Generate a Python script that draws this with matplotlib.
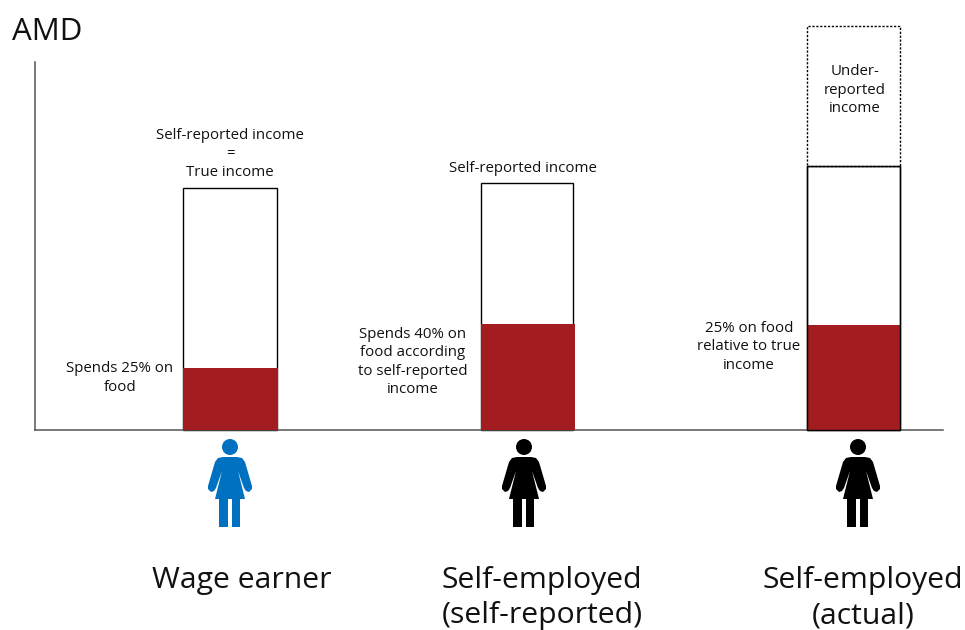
import matplotlib
matplotlib.use("Agg")
import matplotlib.pyplot as plt
from matplotlib.patches import Circle, Polygon, Rectangle

plt.rcParams["font.family"] = ["Open Sans", "DejaVu Sans"]

W, H = 965, 630
categories = ["Wage earner", "Self-employed\n(self-reported)", "Self-employed\n(actual)"]
bar_left = [183, 481, 807]
bar_width = [94, 92, 93]
income = [242, 247, 264]
food = [62, 106, 105]
unreported = [0, 0, 140]
food_width = [95, 94, 93]
outline_over_food = [False, False, True]
icon_colors = ["#0070C0", "#000000", "#000000"]
icon_x = [230, 524, 858]
label_x = [242, 542, 863]

RED = "#A21C20"
AXIS = "#555555"

fig = plt.figure(figsize=(W / 100, H / 100), dpi=100)

# Chart axes: baseline at y=430 px, vertical axis at x=35 px
ax = fig.add_axes([35 / W, 1 - 430 / H, (943 - 35) / W, (430 - 62) / H])
ax.set_xlim(35, 943)
ax.set_ylim(0, 368)
ax.set_xticks([])
ax.set_yticks([])
ax.patch.set_alpha(0)
for side in ("top", "right"):
    ax.spines[side].set_visible(False)
for side in ("left", "bottom"):
    ax.spines[side].set_color(AXIS)
    ax.spines[side].set_linewidth(1.1)

for i in range(3):
    ax.add_patch(Rectangle((bar_left[i], 0), bar_width[i], income[i], fc="white",
                           ec="black", lw=1.0, clip_on=False, zorder=2))
    ax.add_patch(Rectangle((bar_left[i], 0), food_width[i], food[i], fc=RED,
                           ec="none", clip_on=False, zorder=3))
    if outline_over_food[i]:
        ax.add_patch(Rectangle((bar_left[i], 0), bar_width[i], income[i], fc="none",
                               ec="black", lw=1.0, clip_on=False, zorder=4))
    if unreported[i]:
        ax.add_patch(Rectangle((bar_left[i], income[i]), bar_width[i], unreported[i],
                               fc="white", ec="black", lw=1.0, ls=(0, (1.6, 1.2)),
                               clip_on=False, zorder=2))

# Overlay in pixel coordinates for icons and annotations
ov = fig.add_axes([0, 0, 1, 1])
ov.set_xlim(0, W)
ov.set_ylim(H, 0)
ov.axis("off")
ov.patch.set_alpha(0)

# Person outline as offsets from the icon centre line
body = [(-7, 457), (7, 457), (12, 458), (15, 462), (22, 486), (22, 489), (19, 492),
        (16, 491), (14, 488), (8, 471), (15, 499), (10, 499), (10, 527), (2, 527),
        (2, 499), (-2, 499), (-2, 527), (-11, 527), (-11, 499), (-15, 499), (-8, 471),
        (-14, 488), (-16, 491), (-19, 492), (-22, 489), (-22, 486), (-15, 462), (-12, 458)]
for cx, col in zip(icon_x, icon_colors):
    ov.add_patch(Circle((cx, 447), 8, fc=col, ec="none"))
    ov.add_patch(Polygon([(cx + dx, y) for dx, y in body], closed=True, fc=col, ec="none"))

small = 10.85
notes = [
    (230, 154, "Self-reported income\n=\nTrue income"),
    (523, 168, "Self-reported income"),
    (120, 378, "Spends 25% on\nfood"),
    (413, 362, "Spends 40% on\nfood according\nto self-reported\nincome"),
    (749, 347, "25% on food\nrelative to true\nincome"),
    (855, 90, "Under-\nreported\nincome"),
]
for x, y, s in notes:
    ov.text(x, y, s, ha="center", va="center", fontsize=small, color="#111111",
            linespacing=1.31)

ov.text(12, 32, "AMD", ha="left", va="center", fontsize=22.5, color="#111111")

for x, s in zip(label_x, categories):
    ov.text(x, 566, s, ha="center", va="top", fontsize=21.7, color="#111111",
            linespacing=1.28, clip_on=False)

fig.savefig("out.png", dpi=100)
